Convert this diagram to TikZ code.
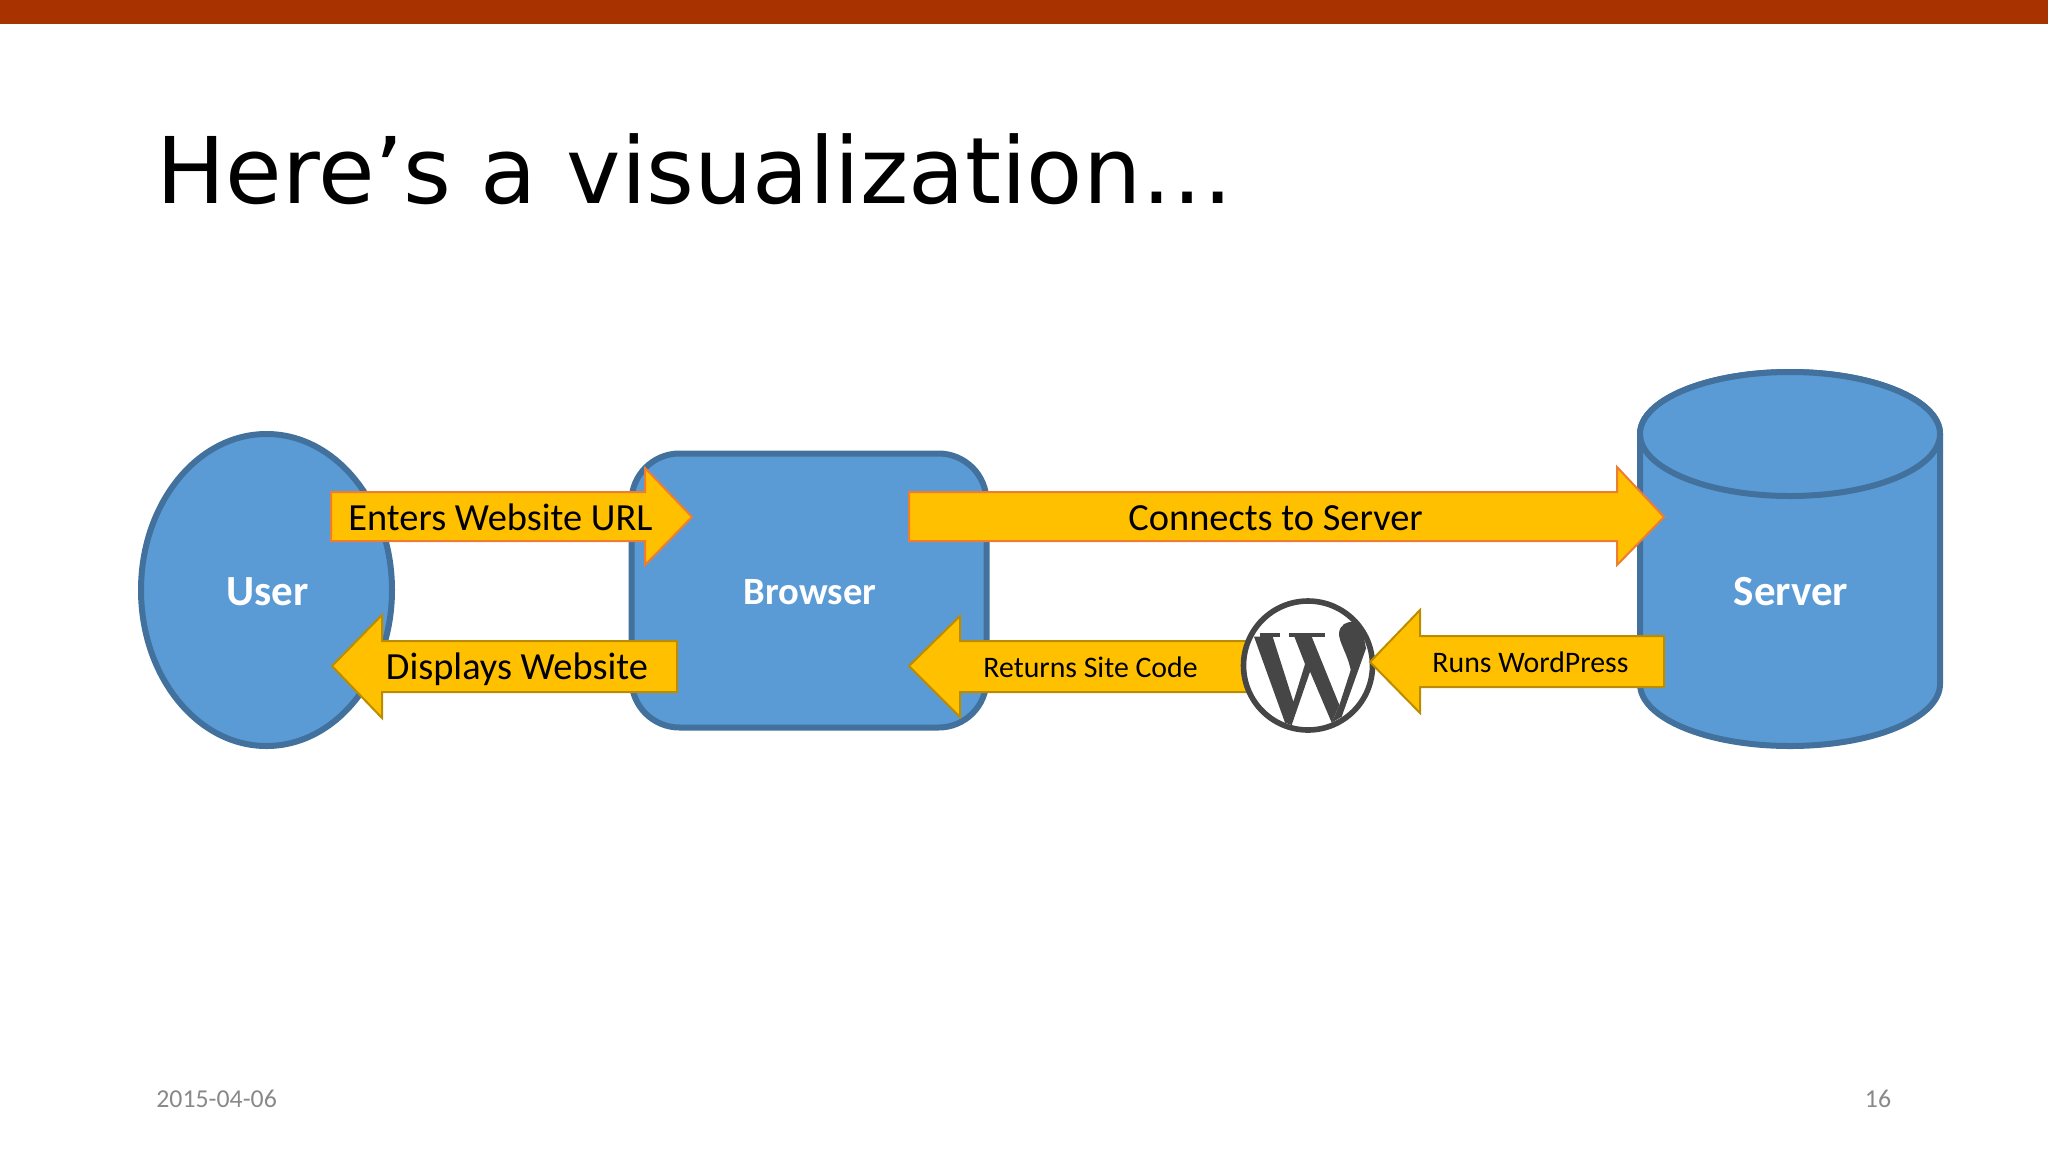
\documentclass[tikz,border=0pt]{standalone}
\usepackage{fontspec}
\setmainfont{Carlito}
\newfontfamily\titlefont{DejaVu Sans}
\usetikzlibrary{shapes.geometric}
\definecolor{barred}{HTML}{A83200}
\definecolor{shapeblue}{HTML}{5B9BD5}
\definecolor{shapeline}{HTML}{41719C}
\definecolor{arrowfill}{HTML}{FFC000}
\definecolor{arrowgold}{HTML}{BC8C00}
\definecolor{arroworange}{HTML}{ED7D31}
\definecolor{logogray}{HTML}{464646}
\definecolor{footgray}{HTML}{898989}
\tikzset{
  bluebox/.style={fill=shapeblue,draw=shapeline,line width=3pt},
  goldarrow/.style={fill=arrowfill,draw=arrowgold,line width=1pt},
  orangearrow/.style={fill=arrowfill,draw=arroworange,line width=1pt},
  bluelabel/.style={text=white,font=\bfseries\fontsize{#1}{#1}\selectfont},
  arrowlabel/.style={text=black,font=\fontsize{#1}{#1}\selectfont,anchor=base west,inner sep=0pt},
  footlabel/.style={text=footgray,font=\fontsize{12.9}{13}\selectfont,inner sep=0pt}
}
\begin{document}
\begin{tikzpicture}[x=0.5pt,y=0.5pt,yscale=-1,xscale=1]
\useasboundingbox (0,0) rectangle (2048,1152);

%Top bar
\fill [barred] (0,0) rectangle (2048,24);

% Text Node
\node (title) [anchor=base west,inner sep=0pt,font=\titlefont\fontsize{46}{47}\selectfont] at (156,203) {Here’s a visualization…};

%Blue shapes
\node (user) [ellipse,bluebox,inner sep=0pt,minimum width=125.5pt,minimum height=156pt] at (266.5,590) {};
\node (browser) [rectangle,rounded corners=24pt,bluebox,inner sep=0pt,minimum width=177.5pt,minimum height=137pt] at (809,590.5) {};
%Cylinder
\draw [bluebox] (1640,434) -- (1640,684) arc [start angle=180,end angle=0,x radius=150,y radius=62] -- (1940,434) arc [start angle=0,end angle=-180,x radius=150,y radius=62];
\draw [bluebox] (1640,434) arc [start angle=180,end angle=540,x radius=150,y radius=62];

% Text Node
\node (userlabel) [bluelabel=21.5] at (267.5,592) {User};
\node (browserlabel) [bluelabel=19.3] at (810,592) {Browser};
\node (serverlabel) [bluelabel=21.5] at (1791,592) {Server};

%Arrows
\draw [orangearrow] (331,492) -- (645,492) -- (645,468) -- (692,517) -- (645,565) -- (645,541) -- (331,541) -- cycle;
\draw [goldarrow] (677,641) -- (382,641) -- (382,615) -- (332,666) -- (382,718) -- (382,692) -- (677,692) -- cycle;
\draw [orangearrow] (909,492) -- (1617,492) -- (1617,467) -- (1664,517) -- (1617,565) -- (1617,541) -- (909,541) -- cycle;
\draw [goldarrow] (1250,641) -- (960,641) -- (960,616) -- (909,666) -- (960,717) -- (960,692) -- (1250,692) -- cycle;

%Logo
\draw [fill=white,draw=logogray,line width=2.8pt] (1308,665.5) circle [radius=64.5];
\begin{scope}[shift={(1230,590)},x=0.1667pt,y=0.1667pt]
\fill [logogray] (72,140) -- (128,140) -- (190,335) -- (225,222) -- (193,140) -- (245,140) -- (328,345) -- (305,398) -- (240,245) -- (185,405) -- (165,398) -- cycle;
\fill [logogray] (90,128) rectangle (150,142);
\fill [logogray] (178,128) rectangle (285,142);
\fill [logogray] (328,345) -- (362,240) .. controls (352,190) and (325,155) .. (327,128) .. controls (330,105) and (350,92) .. (372,97) -- (400,135) -- (408,175) -- (335,380) -- (305,398) -- cycle;
\end{scope}

\draw [goldarrow] (1664,636) -- (1420,636) -- (1420,610) -- (1370,662) -- (1420,713) -- (1420,687) -- (1664,687) -- cycle;

% Text Node
\node (enters) [arrowlabel=19.2] at (348,530) {Enters Website URL};
\node (displays) [arrowlabel=19.2] at (385.5,679) {Displays Website};
\node (connects) [arrowlabel=19.2] at (1128,530) {Connects to Server};
\node (returns) [arrowlabel=14.9] at (983,677) {Returns Site Code};
\node (runs) [arrowlabel=14.9] at (1432,672) {Runs WordPress};

% Text Node
\node (date) [footlabel,anchor=base west] at (156,1107) {2015-04-06};
\node (page) [footlabel,anchor=base east] at (1891.5,1107) {16};
\end{tikzpicture}
\end{document}
